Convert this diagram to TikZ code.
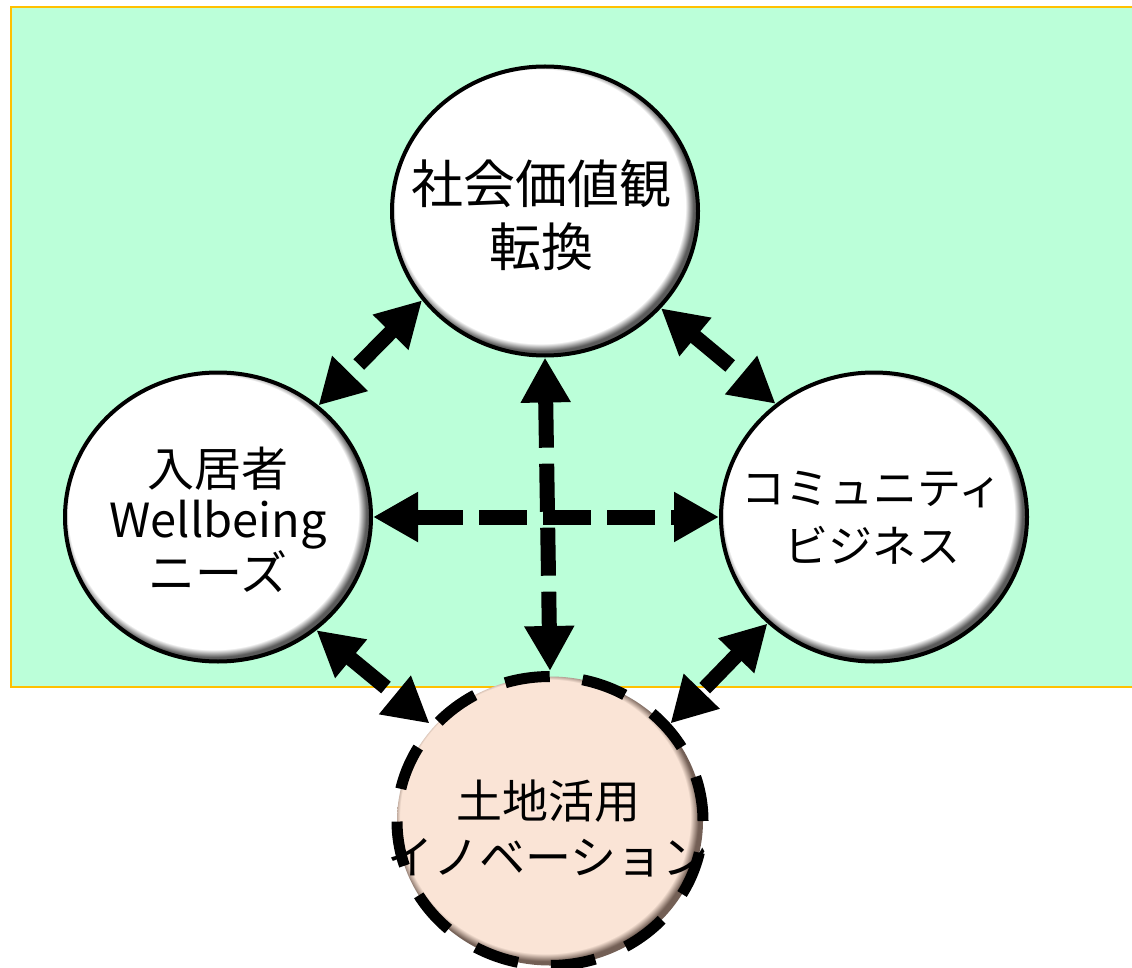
\documentclass[tikz,border=0pt]{standalone}
\usepackage{fontspec}
\setmainfont{Noto Sans CJK JP}
\usetikzlibrary{arrows.meta,shapes.geometric}
\definecolor{bggreen}{RGB}{187,255,217}
\definecolor{frameorange}{RGB}{255,192,0}
\definecolor{peach}{RGB}{250,228,214}
\definecolor{shadowgray}{RGB}{90,90,90}
\definecolor{shadowbrown}{RGB}{115,95,85}
\pgfdeclareradialshading{whiteball}{\pgfpoint{-1.5bp}{1.5bp}}{color(0bp)=(white); color(23.7bp)=(white); color(25bp)=(shadowgray); color(50bp)=(shadowgray)}
\pgfdeclareradialshading{peachball}{\pgfpoint{-1.5bp}{1.5bp}}{color(0bp)=(peach); color(23.7bp)=(peach); color(25bp)=(shadowbrown); color(50bp)=(shadowbrown)}
\begin{document}
\begin{tikzpicture}[x=1pt,y=-1pt,
  bubble/.style={ellipse, minimum width=306pt, minimum height=289pt, inner sep=0pt, draw=black, line width=4pt, shading=whiteball},
  peachbubble/.style={ellipse, minimum width=306pt, minimum height=289pt, inner sep=0pt, draw=black, line width=11pt, dash pattern=on 45pt off 33pt, shading=peachball},
  lbl/.style={align=center, inner sep=0pt, text=black},
  arr/.style={line width=15pt, dash pattern=on 48pt off 16pt, >={Triangle[length=45pt,width=47pt]}, <->}
]
\useasboundingbox (0,0) rectangle (1132,968);
\begin{scope}
\clip (0,0) rectangle (1132,968);
\node[draw=frameorange, fill=bggreen, line width=2pt, minimum width=1140pt, minimum height=680pt, inner sep=0pt, anchor=north west] (panel) at (10,6) {};
\end{scope}

\node[bubble] (top) at (545,211) {};
\node[bubble] (left) at (218,517) {};
\node[bubble] (right) at (874,517) {};
\node[peachbubble] (bot) at (550,821) {};

\node[lbl, font={\fontsize{52}{63}\selectfont}] (toptext) at (541,215) {社会価値観\\転換};
\node[lbl, font={\fontsize{47}{51}\selectfont}] (lefttext) at (218,520) {入居者\\Wellbeing\\ニーズ};
\node[lbl, font={\fontsize{44}{58}\selectfont}] (righttext) at (872,518) {コミュニティ\\ビジネス};
\node[lbl, font={\fontsize{46}{56}\selectfont}] (bottext) at (548,828) {土地活用\\イノベーション};

\draw[arr] (top.south) -- (bot.north);
\draw[arr] (left.east) -- (right.west);
\draw[arr] (top.216) -- (left.48);
\draw[arr] (top.-40) -- (right.131);
\draw[arr] (left.-49) -- (bot.141);
\draw[arr] (right.225) -- (bot.39);
\end{tikzpicture}
\end{document}
